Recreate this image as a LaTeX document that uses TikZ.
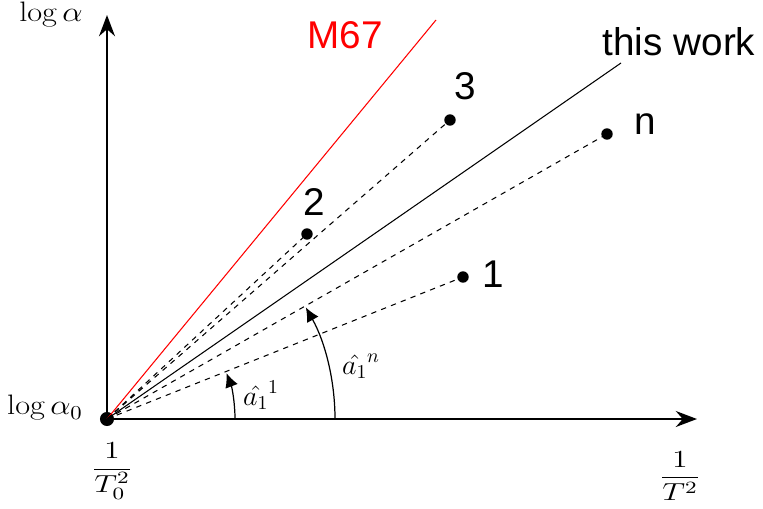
\RequirePackage{fix-cm}
\documentclass[tikz,border=0pt]{standalone}
\usepackage{amsmath}
\usepackage{fontspec}
\setsansfont{Liberation Sans}
\usetikzlibrary{arrows.meta,positioning}
\tikzset{
  axis/.style={line width=1.6pt,-{Stealth[length=12pt,width=9pt]}},
  pt/.style={circle,fill,inner sep=0pt,minimum size=6.5pt},
  tag/.style={font=\sffamily\fontsize{22}{26}\selectfont},
  mlab/.style={font=\fontsize{16}{19}\selectfont,inner sep=1pt},
  flab/.style={font=\fontsize{14}{17}\selectfont,inner sep=1pt,xscale=1.3},
  ray/.style={line width=0.6pt},
  turn/.style={line width=0.7pt,-{Latex[length=8pt,width=7.5pt]}}
}
\begin{document}
\begin{tikzpicture}[x=0.02cm,y=0.02cm]
  \useasboundingbox (-107,-89) rectangle (656,419);
  % points
  \node[pt,minimum size=8pt] (O) at (0,0) {};
  \node[pt] (p1) at (356,142) {};
  \node[pt] (p2) at (200,185) {};
  \node[pt] (p3) at (343,299) {};
  \node[pt] (pn) at (500,285) {};
  \coordinate (xend) at (590,0);
  \coordinate (yend) at (0,404);
  \coordinate (mend) at (329,399);
  \coordinate (wend) at (514,356);
  % axes
  \draw[axis] (O.center) -- (xend);
  \draw[axis] (O.center) -- (yend);
  % lines
  \draw[ray,red] (O.center) -- (mend);
  \draw[ray] (O.center) -- (wend);
  \foreach \p in {p1,p2,p3,pn}
    \draw[ray,dashed] (O.center) -- (\p.center);
  % angles
  \draw[turn] (128,0) arc[start angle=0,end angle=21,radius=128];
  \draw[turn] (228,0) arc[start angle=0,end angle=29.3,radius=228];
  % labels
  \node[tag,red] (lm) at (238,384) {M67};
  \node[tag] (lw) at (572,377) {this work};
  \node[tag] (l1) at (386,145) {1};
  \node[tag] (l2) at (207,217) {2};
  \node[tag] (l3) at (358,333) {3};
  \node[tag] (ln) at (538,295) {n};
  \node[mlab,xscale=1.15] (ly) at (-56,404) {$\log\alpha$};
  \node[mlab,xscale=1.15] (ly0) at (-62,11) {$\log\alpha_0$};
  \node[flab] (lx0) at (5,-52) {$\dfrac{1}{T_0^2}$};
  \node[flab] (lx) at (573,-57) {$\dfrac{1}{T^2}$};
  \node[mlab] (la1) at (154,24) {$\hat{a_1}^1$};
  \node[mlab] (lan) at (254,53) {$\hat{a_1}^n$};
\end{tikzpicture}
\end{document}
